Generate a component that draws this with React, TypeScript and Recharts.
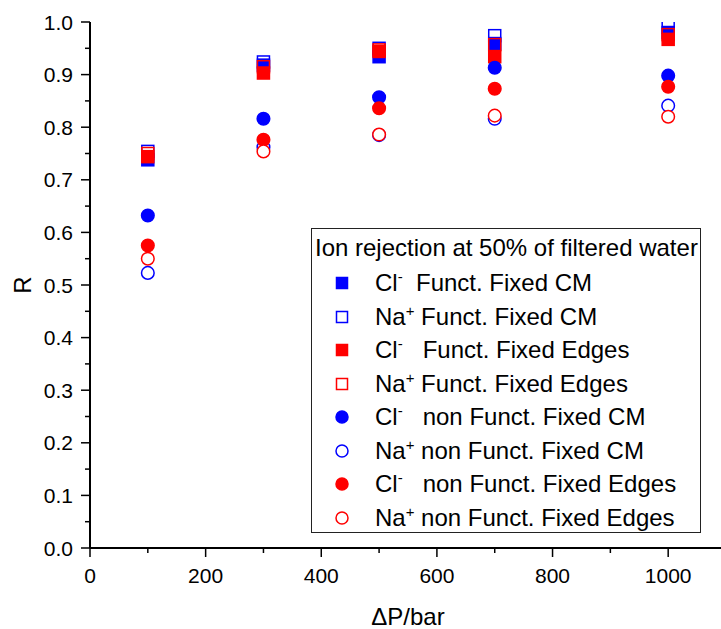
import React from 'react';
import { ScatterChart, Scatter, XAxis, YAxis, Legend } from 'recharts';

// ---- data ----
const pressure = [100, 300, 500, 700, 1000];
const clFunctCM = [0.738, 0.918, 0.934, 0.959, 0.98];
const naFunctCM = [0.754, 0.924, 0.95, 0.974, 0.99];
const clFunctEdges = [0.744, 0.903, 0.944, 0.934, 0.967];
const naFunctEdges = [0.75, 0.915, 0.947, 0.957, 0.976];
const clNonCM = [0.632, 0.816, 0.857, 0.913, 0.898];
const naNonCM = [0.523, 0.762, 0.785, 0.816, 0.841];
const clNonEdges = [0.575, 0.776, 0.836, 0.873, 0.877];
const naNonEdges = [0.55, 0.754, 0.786, 0.822, 0.82];

const xTicks = [0, 100, 200, 300, 400, 500, 600, 700, 800, 900, 1000];
const yTicks = [0, 0.05, 0.1, 0.15, 0.2, 0.25, 0.3, 0.35, 0.4, 0.45, 0.5, 0.55, 0.6, 0.65, 0.7, 0.75, 0.8, 0.85, 0.9, 0.95, 1.0];
const legendTitle = 'Ion rejection at 50% of filtered water';
const xTitle = 'ΔP/bar';
const yTitle = 'R';

const BLUE = '#0000ff';
const RED = '#ff0000';
const FONT = '"Liberation Sans", Arial, Helvetica, sans-serif';

type Series = {
  ion: string;
  charge: string;
  rest: string;
  values: number[];
  color: string;
  shape: 'square' | 'circle';
  filled: boolean;
};

const series: Series[] = [
  { ion: 'Cl', charge: '-', rest: '  Funct. Fixed CM', values: clFunctCM, color: BLUE, shape: 'square', filled: true },
  { ion: 'Na', charge: '+', rest: ' Funct. Fixed CM', values: naFunctCM, color: BLUE, shape: 'square', filled: false },
  { ion: 'Cl', charge: '-', rest: '   Funct. Fixed Edges', values: clFunctEdges, color: RED, shape: 'square', filled: true },
  { ion: 'Na', charge: '+', rest: ' Funct. Fixed Edges', values: naFunctEdges, color: RED, shape: 'square', filled: false },
  { ion: 'Cl', charge: '-', rest: '   non Funct. Fixed CM', values: clNonCM, color: BLUE, shape: 'circle', filled: true },
  { ion: 'Na', charge: '+', rest: ' non Funct. Fixed CM', values: naNonCM, color: BLUE, shape: 'circle', filled: false },
  { ion: 'Cl', charge: '-', rest: '   non Funct. Fixed Edges', values: clNonEdges, color: RED, shape: 'circle', filled: true },
  { ion: 'Na', charge: '+', rest: ' non Funct. Fixed Edges', values: naNonEdges, color: RED, shape: 'circle', filled: false },
];

function Marker(props: { cx: number; cy: number; color: string; shape: string; filled: boolean; size: number }) {
  const { cx, cy, color, shape, filled, size } = props;
  if (cx == null || cy == null) return null;
  if (shape === 'square') {
    const h = size / 2;
    return <rect x={cx - h} y={cy - h} width={size} height={size} fill={filled ? color : 'none'} stroke={color} strokeWidth={1.5} />;
  }
  return <circle cx={cx} cy={cy} r={size / 2} fill={filled ? color : '#ffffff'} stroke={color} strokeWidth={1.5} />;
}

const isMajorX = (v: number) => Math.round(v) % 200 === 0;
const isMajorY = (v: number) => Math.round(v * 100) % 10 === 0;

function BottomTick(p: any) {
  const v = p.payload.value;
  const major = isMajorX(v);
  return (
    <g>
      <line x1={p.x} x2={p.x} y1={p.y} y2={p.y + (major ? 9 : 5)} stroke="#000" strokeWidth={1.5} />
      {major && (
        <text x={p.x} y={p.y + 35} textAnchor="middle" fontSize={21} fontFamily={FONT} fill="#000">
          {v}
        </text>
      )}
    </g>
  );
}

function TopTick(p: any) {
  const major = isMajorX(p.payload.value);
  return <line x1={p.x} x2={p.x} y1={p.y} y2={p.y + (major ? 9 : 5)} stroke="#000" strokeWidth={1.5} />;
}

function LeftTick(p: any) {
  const v = p.payload.value;
  const major = isMajorY(v);
  return (
    <g>
      <line x1={p.x} x2={p.x - (major ? 9 : 5)} y1={p.y} y2={p.y} stroke="#000" strokeWidth={1.5} />
      {major && (
        <text x={p.x - 17} y={p.y + 7.5} textAnchor="end" fontSize={21} fontFamily={FONT} fill="#000">
          {v.toFixed(1)}
        </text>
      )}
    </g>
  );
}

function RightTick(p: any) {
  const major = isMajorY(p.payload.value);
  return <line x1={p.x} x2={p.x - (major ? 9 : 5)} y1={p.y} y2={p.y} stroke="#000" strokeWidth={1.5} />;
}

function LegendBox() {
  return (
    <div
      style={{
        position: 'relative',
        width: 390,
        height: 305,
        border: '1px solid #222',
        boxSizing: 'border-box',
        background: '#fff',
        fontFamily: FONT,
        fontSize: 24,
        color: '#000',
      }}
    >
      <div style={{ position: 'absolute', left: 3, top: 19 - 14, lineHeight: '28px', whiteSpace: 'pre' }}>{legendTitle}</div>
      {series.map((s, i) => {
        const cy = 54 + i * 33.57;
        return (
          <div key={i} style={{ position: 'absolute', left: 0, top: cy - 14, height: 28, width: 388 }}>
            <svg width={20} height={20} style={{ position: 'absolute', left: 20, top: 4 }}>
              <Marker cx={10} cy={10} color={s.color} shape={s.shape} filled={s.filled} size={s.shape === 'square' ? 11 : 12} />
            </svg>
            <div style={{ position: 'absolute', left: 63, top: 0, lineHeight: '28px', whiteSpace: 'pre' }}>
              {s.ion}
              <span style={{ fontSize: 15, position: 'relative', top: -9 }}>{s.charge}</span>
              {s.rest}
            </div>
          </div>
        );
      })}
    </div>
  );
}

export default function App() {
  return (
    <div style={{ position: 'absolute', left: 0, top: 0, width: 721, height: 629, overflow: 'hidden', background: '#fff' }}>
      <ScatterChart width={740} height={629} margin={{ top: 22, right: 14, bottom: 0, left: 30 }} style={{ fontFamily: FONT }}>
        <XAxis
          xAxisId="b"
          type="number"
          dataKey="x"
          orientation="bottom"
          domain={[0, 1100]}
          allowDataOverflow
          ticks={xTicks}
          interval={0}
          height={81}
          tickSize={0}
          tickMargin={0}
          tickLine={false}
          tick={(p: any) => <BottomTick {...p} />}
          axisLine={{ stroke: '#000', strokeWidth: 2 }}
          label={{ value: xTitle, position: 'insideBottom', offset: 4, fontSize: 24, fill: '#000', fontFamily: FONT }}
        />
        <XAxis
          xAxisId="t"
          type="number"
          dataKey="x"
          orientation="top"
          domain={[0, 1100]}
          allowDataOverflow
          ticks={xTicks}
          interval={0}
          height={0}
          tickSize={0}
          tickMargin={0}
          tickLine={false}
          tick={(p: any) => <TopTick {...p} />}
          axisLine={{ stroke: '#000', strokeWidth: 2 }}
        />
        <YAxis
          yAxisId="l"
          type="number"
          dataKey="y"
          orientation="left"
          domain={[0, 1]}
          allowDataOverflow
          ticks={yTicks}
          interval={0}
          width={60}
          tickSize={0}
          tickMargin={0}
          tickLine={false}
          tick={(p: any) => <LeftTick {...p} />}
          axisLine={{ stroke: '#000', strokeWidth: 2 }}
          label={() => (
            <text x={22} y={285} transform="rotate(-90 22 285)" textAnchor="middle" dominantBaseline="central" fontSize={24} fontFamily={FONT} fill="#000">
              {yTitle}
            </text>
          )}
        />
        <YAxis
          yAxisId="r"
          type="number"
          dataKey="y"
          orientation="right"
          domain={[0, 1]}
          allowDataOverflow
          ticks={yTicks}
          interval={0}
          width={0}
          tickSize={0}
          tickMargin={0}
          tickLine={false}
          tick={(p: any) => <RightTick {...p} />}
          axisLine={{ stroke: '#000', strokeWidth: 2 }}
        />
        {series.map((s, i) => (
          <Scatter
            key={i}
            xAxisId="b"
            yAxisId="l"
            name={s.ion + s.charge + s.rest}
            data={pressure.map((x, j) => ({ x, y: s.values[j] }))}
            isAnimationActive={false}
            shape={(p: any) => (
              <Marker cx={p.cx} cy={p.cy} color={s.color} shape={s.shape} filled={s.filled} size={s.shape === 'square' ? 12 : 12.6} />
            )}
          />
        ))}
        <Legend
          layout="vertical"
          align="center"
          verticalAlign="middle"
          content={() => <LegendBox />}
          wrapperStyle={{ left: 311, top: 228, width: 390, height: 305 }}
        />
      </ScatterChart>
    </div>
  );
}
